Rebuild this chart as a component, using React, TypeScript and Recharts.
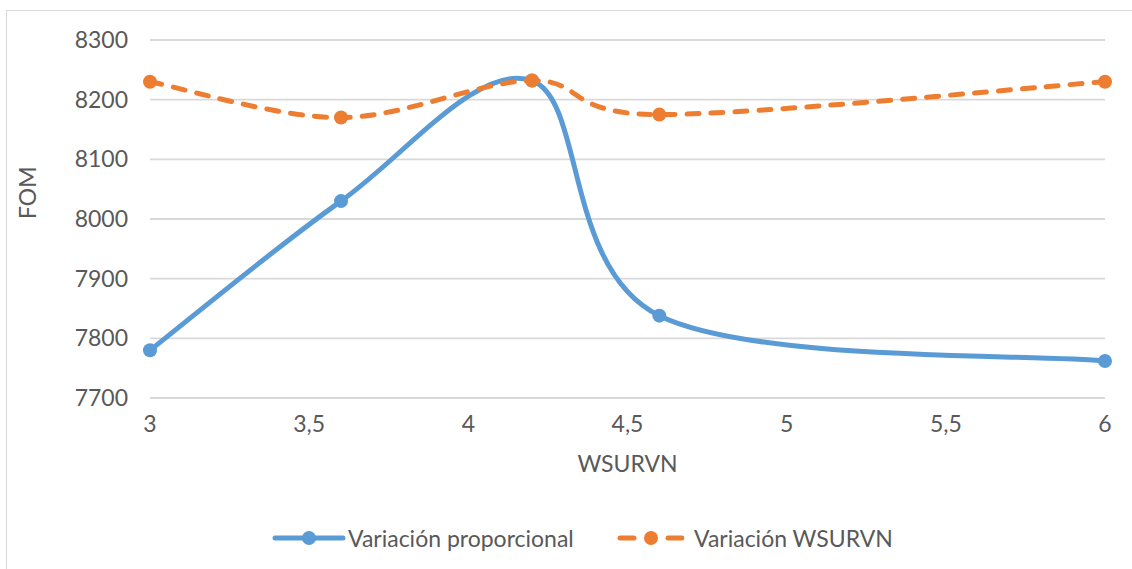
import React from "react";
import { CartesianGrid, Line, LineChart, XAxis, YAxis, Label } from "recharts";

const wsurvn = [3, 3.6, 4.2, 4.6, 6];
const proporcional = [7780, 8030, 8232, 7838, 7762];
const variacionWsurvn = [8230, 8170, 8232, 8175, 8230];
const xTicks = [3, 3.5, 4, 4.5, 5, 5.5, 6];
const yTicks = [7700, 7800, 7900, 8000, 8100, 8200, 8300];

const BLUE = "#5B9BD5";
const ORANGE = "#ED7D31";
const TEXT = "#595959";
const FONT = "Lato, 'Open Sans', sans-serif";
const FS = 23;

const rows = wsurvn.map((x, i) => ({
  x,
  proporcional: proporcional[i],
  wsurvn: variacionWsurvn[i],
}));

// Excel-style smoothed line: Catmull-Rom segments written as cubic beziers
function smoothCurve(context: any) {
  let pts: [number, number][] = [];
  return {
    areaStart() {},
    areaEnd() {},
    lineStart() {
      pts = [];
    },
    point(x: number, y: number) {
      pts.push([+x, +y]);
    },
    lineEnd() {
      if (!pts.length) return;
      context.moveTo(pts[0][0], pts[0][1]);
      for (let i = 0; i < pts.length - 1; i++) {
        const p0 = pts[i - 1] || pts[i];
        const p1 = pts[i];
        const p2 = pts[i + 1];
        const p3 = pts[i + 2] || pts[i + 1];
        context.bezierCurveTo(
          p1[0] + (p2[0] - p0[0]) / 6,
          p1[1] + (p2[1] - p0[1]) / 6,
          p2[0] - (p3[0] - p1[0]) / 6,
          p2[1] - (p3[1] - p1[1]) / 6,
          p2[0],
          p2[1]
        );
      }
    },
  };
}

const fmt = (v: number) => String(v).replace(".", ",");

function LegendItem({ color, dashed, label, left }: { color: string; dashed?: boolean; label: string; left: number }) {
  const w = dashed ? 68 : 74;
  return (
    <div style={{ position: "absolute", left, top: 0, display: "flex", alignItems: "center", gap: dashed ? 10 : 2 }}>
      <svg width={w} height={18}>
        {dashed ? (
          <>
            <line x1={4} x2={18} y1={9} y2={9} stroke={color} strokeWidth={5} strokeLinecap="round" />
            <line x1={52} x2={66} y1={9} y2={9} stroke={color} strokeWidth={5} strokeLinecap="round" />
          </>
        ) : (
          <line x1={3} x2={71} y1={9} y2={9} stroke={color} strokeWidth={5} strokeLinecap="round" />
        )}
        <circle cx={dashed ? 35 : 37} cy={9} r={7} fill={color} />
      </svg>
      <span style={{ color: TEXT, fontSize: FS, fontFamily: FONT, whiteSpace: "nowrap" }}>{label}</span>
    </div>
  );
}

export default function App() {
  return (
    <div style={{ position: "absolute", left: 0, top: 0, width: 1132, height: 569, background: "#fff" }}>
      <div
        style={{
          position: "absolute",
          left: 6,
          top: 10,
          width: 1140,
          height: 600,
          border: "1.5px solid #d9d9d9",
          boxSizing: "border-box",
        }}
      />
      <LineChart
        width={1132}
        height={569}
        data={rows}
        margin={{ top: 40, right: 27, bottom: 91, left: 0 }}
        style={{ position: "absolute", left: 0, top: 0, fontFamily: FONT }}
      >
        <CartesianGrid vertical={false} stroke="#d9d9d9" strokeWidth={1.8} />
        <XAxis
          dataKey="x"
          type="number"
          domain={[3, 6]}
          ticks={xTicks}
          tickFormatter={fmt}
          axisLine={false}
          tickLine={false}
          tickMargin={12}
          height={80}
          tick={{ fill: TEXT, fontSize: FS }}
        >
          <Label value="WSURVN" position="insideBottom" offset={6} fill={TEXT} fontSize={FS} />
        </XAxis>
        <YAxis
          domain={[7700, 8300]}
          ticks={yTicks}
          axisLine={false}
          tickLine={false}
          tickMargin={16}
          width={150}
          tick={{ fill: TEXT, fontSize: FS }}
        >
          <Label value="FOM" angle={-90} position="insideLeft" offset={28} fill={TEXT} fontSize={FS} />
        </YAxis>
        <Line
          dataKey="proporcional"
          type={smoothCurve as any}
          stroke={BLUE}
          strokeWidth={5}
          dot={{ r: 7, fill: BLUE, stroke: "none" }}
          isAnimationActive={false}
        />
        <Line
          dataKey="wsurvn"
          type={smoothCurve as any}
          stroke={ORANGE}
          strokeWidth={5}
          strokeDasharray="12 12"
          strokeLinecap="round"
          dot={{ r: 7, fill: ORANGE, stroke: "none", strokeDasharray: "" }}
          isAnimationActive={false}
        />
      </LineChart>
      <div style={{ position: "absolute", left: 0, top: 524, width: 1132, height: 30 }}>
        <LegendItem color={BLUE} label="Variación proporcional" left={272} />
        <LegendItem color={ORANGE} dashed label="Variación WSURVN" left={616} />
      </div>
    </div>
  );
}
